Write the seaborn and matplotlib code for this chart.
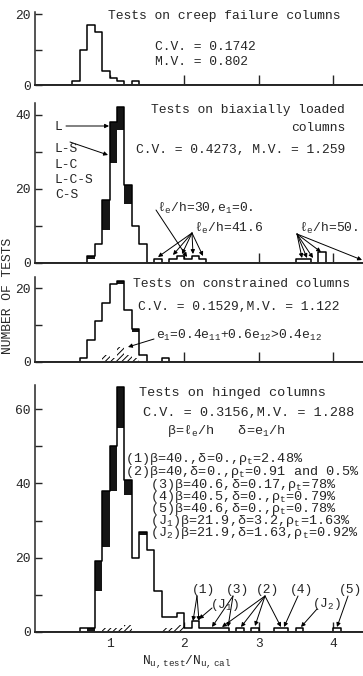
import numpy as np
import pandas as pd
import matplotlib
matplotlib.use("Agg")
import matplotlib.pyplot as plt
import seaborn as sns

# ---------------- data (bin starts of N_u,test/N_u,cal, bin width 0.1) ----------------
creep_bins = [0.5, 0.6, 0.7, 0.8, 0.9, 1.0, 1.1, 1.2, 1.3]
creep_plain = [1, 10, 17, 15, 4, 2, 1, 0, 1]

biax_bins = [0.7, 0.8, 0.9, 1.0, 1.1, 1.2, 1.3, 1.4, 1.6, 1.8, 1.9, 2.0, 2.1, 2.2, 3.5, 3.6, 3.8]
biax_plain = [1, 5, 9, 27, 36, 16, 10, 5, 1, 1, 2, 1, 2, 1, 1, 1, 3]
biax_dark = [1, 0, 8, 11, 6, 5, 0, 0, 0, 0, 0, 0, 0, 0, 0, 0, 0]

cons_bins = [0.6, 0.7, 0.8, 0.9, 1.0, 1.1, 1.2, 1.3, 1.4, 1.7]
cons_hatch = [0, 0, 0, 2, 1, 4, 2, 1, 0, 0]
cons_plain = [1, 6, 11, 14, 20, 17, 12, 7, 2, 1]
cons_dark = [0, 0, 0, 0, 0, 1, 0, 1, 0, 0]

hing_bins = [0.6, 0.7, 0.8, 0.9, 1.0, 1.1, 1.2, 1.3, 1.4, 1.5, 1.6, 1.7, 1.8, 1.9, 2.0,
             2.1, 2.2, 2.3, 2.4, 2.5, 2.7, 2.9, 3.2, 3.3, 3.5, 4.0]
hing_hatch = [0, 0, 0, 1, 1, 1, 2, 0, 0, 0, 0, 1, 1, 2, 0,
              0, 0, 0, 0, 0, 0, 0, 0, 0, 0, 0]
hing_plain = [1, 0, 11, 22, 37, 54, 35, 20, 26, 22, 11, 3, 3, 3, 1,
              3, 1, 1, 1, 1, 1, 1, 1, 1, 1, 1]
hing_dark = [0, 1, 8, 15, 12, 11, 4, 0, 1, 0, 0, 0, 0, 0, 0,
             0, 0, 0, 0, 0, 0, 0, 0, 0, 0, 0]

x_ticks = [1, 2, 3, 4]

# ---------------- style ----------------
sns.set_theme(style="ticks")
plt.rcParams["font.family"] = ["Liberation Mono", "DejaVu Sans Mono", "DejaVu Sans"]
plt.rcParams["mathtext.default"] = "regular"
plt.rcParams["hatch.linewidth"] = 0.7
FS = 9.4
FS4 = 9.7

W, H = 363, 676
fig = plt.figure(figsize=(W / 100, H / 100), dpi=100)


def F(px, py):
    return (px / W, 1 - py / H)


def make_ax(top_px, base_px, ymax):
    ax = fig.add_axes([35 / W, 1 - base_px / H, (W - 35) / W, (base_px - top_px) / H])
    ax.set_xlim(0, 4.4)
    ax.set_ylim(0, ymax)
    return ax


edges = [round(0.1 * i, 2) for i in range(46)]


def draw_hist(ax, bins, layers):
    centers = [b + 0.05 for b in bins]
    cum = np.zeros(len(bins))
    cums = []
    for counts, style in layers:
        cum = cum + np.array(counts, dtype=float)
        cums.append((cum.copy(), style))
    for c, style in reversed(cums):
        df = pd.DataFrame({"ratio": centers, "n": c})
        kw = dict(facecolor="white", edgecolor="none", linewidth=0)
        if style == "dark":
            kw = dict(facecolor="#151515", edgecolor="none", linewidth=0)
        elif style == "hatch":
            kw = dict(facecolor="white", edgecolor="black", linewidth=0, hatch="//////")
        sns.histplot(data=df, x="ratio", weights="n", bins=edges, element="step",
                     fill=True, alpha=1, ax=ax, **kw)
    df = pd.DataFrame({"ratio": centers, "n": cums[-1][0]})
    sns.histplot(data=df, x="ratio", weights="n", bins=edges, element="step",
                 fill=False, color="black", linewidth=1.1, ax=ax)
    ax.set_xlabel("")
    ax.set_ylabel("")


def style_ax(ax, yticks, ylabels, xlabels=False):
    sns.despine(ax=ax)
    ax.spines["left"].set_linewidth(1.1)
    ax.spines["bottom"].set_linewidth(1.4)
    ax.set_xticks(x_ticks)
    ax.set_xticklabels([str(t) for t in x_ticks] if xlabels else [])
    ax.set_yticks(yticks)
    ax.set_yticklabels(ylabels)
    ax.tick_params(axis="x", direction="in", length=7, width=1.0, labelsize=FS, pad=4)
    ax.tick_params(axis="y", direction="in", length=5, width=1.0, labelsize=FS, pad=3)
    ax.set_facecolor("none")


def txt(px, py, s, ha="left", fs=FS, **kw):
    fig.text(*F(px, py), s, ha=ha, va="center", fontsize=fs, **kw)


def arrow(p0, p1, head=True):
    fig.add_artist(matplotlib.patches.FancyArrowPatch(
        F(*p0), F(*p1), transform=fig.transFigure,
        arrowstyle="-|>" if head else "-", mutation_scale=6, lw=0.7,
        color="black", shrinkA=0, shrinkB=0))


# ---------------- panel 1 ----------------
ax1 = make_ax(12, 85, 20.6)
draw_hist(ax1, creep_bins, [(creep_plain, "plain")])
style_ax(ax1, [0, 10, 20], ["0", "", "20"])
txt(108, 16, "Tests on creep failure columns")
txt(155, 47, "C.V. = 0.1742")
txt(155, 62, "M.V. = 0.802")

# ---------------- panel 2 ----------------
ax2 = make_ax(103, 263, 43.2)
draw_hist(ax2, biax_bins, [(biax_plain, "plain"), (biax_dark, "dark")])
style_ax(ax2, [0, 10, 20, 30, 40], ["0", "", "20", "", "40"])
txt(345, 110, "Tests on biaxially loaded", ha="right")
txt(345, 128, "columns", ha="right")
txt(345, 150, "C.V. = 0.4273, M.V. = 1.259", ha="right")
for lab, y in zip(["L", "L-S", "L-C", "L-C-S", "C-S"], [127, 149, 165, 180, 195]):
    txt(55, y, lab)
arrow((66, 126), (109, 126))
arrow((70, 142), (108, 155))
txt(157, 208, "ℓ$_e$/h=30,e$_1$=0.")
arrow((156, 210), (187, 257))
txt(194, 228, "ℓ$_e$/h=41.6")
for t in [(158, 257), (173, 255), (182, 254), (193, 254), (203, 256)]:
    arrow((192, 233), t)
txt(299, 228, "ℓ$_e$/h=50.")
for t in [(302, 258), (307, 258), (313, 258), (321, 252), (362, 260)]:
    arrow((297, 234), t)

# ---------------- panel 3 ----------------
ax3 = make_ax(277, 362, 23)
draw_hist(ax3, cons_bins, [(cons_hatch, "hatch"), (cons_plain, "plain"), (cons_dark, "dark")])
style_ax(ax3, [0, 10, 20], ["0", "", "20"])
txt(133, 284, "Tests on constrained columns")
txt(138, 307, "C.V. = 0.1529,M.V. = 1.122")
txt(156, 335, "e$_1$=0.4e$_{11}$+0.6e$_{12}$>0.4e$_{12}$")
arrow((154, 339), (128, 347))

# ---------------- panel 4 ----------------
ax4 = make_ax(385, 632, 66.5)
draw_hist(ax4, hing_bins, [(hing_hatch, "hatch"), (hing_plain, "plain"), (hing_dark, "dark")])
style_ax(ax4, [0, 10, 20, 30, 40, 50, 60], ["0", "", "20", "", "40", "", "60"], xlabels=True)
txt(139, 393, "Tests on hinged columns", fs=FS4)
txt(143, 413, "C.V. = 0.3156,M.V. = 1.288", fs=FS4)
txt(167, 431, "β=ℓ$_e$/h   δ=e$_1$/h", fs=FS4)
param_lines = [
    (125, 459, "(1)β=40.,δ=0.,ρ$_t$=2.48%"),
    (125, 472, "(2)β=40,δ=0.,ρ$_t$=0.91 and 0.5%"),
    (150, 485, "(3)β=40.6,δ=0.17,ρ$_t$=78%"),
    (150, 497, "(4)β=40.5,δ=0.,ρ$_t$=0.79%"),
    (150, 509, "(5)β=40.6,δ=0.,ρ$_t$=0.78%"),
    (150, 521, "(J$_1$)β=21.9,δ=3.2,ρ$_t$=1.63%"),
    (150, 533, "(J$_2$)β=21.9,δ=1.63,ρ$_t$=0.92%"),
]
for x0, y0, s in param_lines:
    txt(x0, y0, s, fs=FS4)

txt(203, 590, "(1)", ha="center")
arrow((197, 596), (193, 621))
arrow((197, 596), (199, 621))
txt(225, 605, "(J$_1$)", ha="center")
arrow((212, 608), (199, 619))
txt(237, 590, "(3)", ha="center")
arrow((233, 596), (212, 627))
arrow((233, 596), (228, 627))
txt(268, 590, "(2)", ha="center")
for t in [(222, 627), (241, 627), (255, 626), (281, 627)]:
    arrow((265, 596), t)
txt(302, 590, "(4)", ha="center")
arrow((298, 596), (284, 627))
txt(327, 604, "(J$_2$)", ha="center")
arrow((317, 609), (301, 627))
txt(362, 590, "(5)", ha="right")
arrow((348, 596), (337, 627))

# ---------------- axis titles ----------------
txt(8, 296, "NUMBER OF TESTS", ha="center", fs=9.4, rotation=90)
txt(187, 662, "N$_{u,test}$/N$_{u,cal}$", ha="center")

fig.savefig("out.png", dpi=100, facecolor="white")
